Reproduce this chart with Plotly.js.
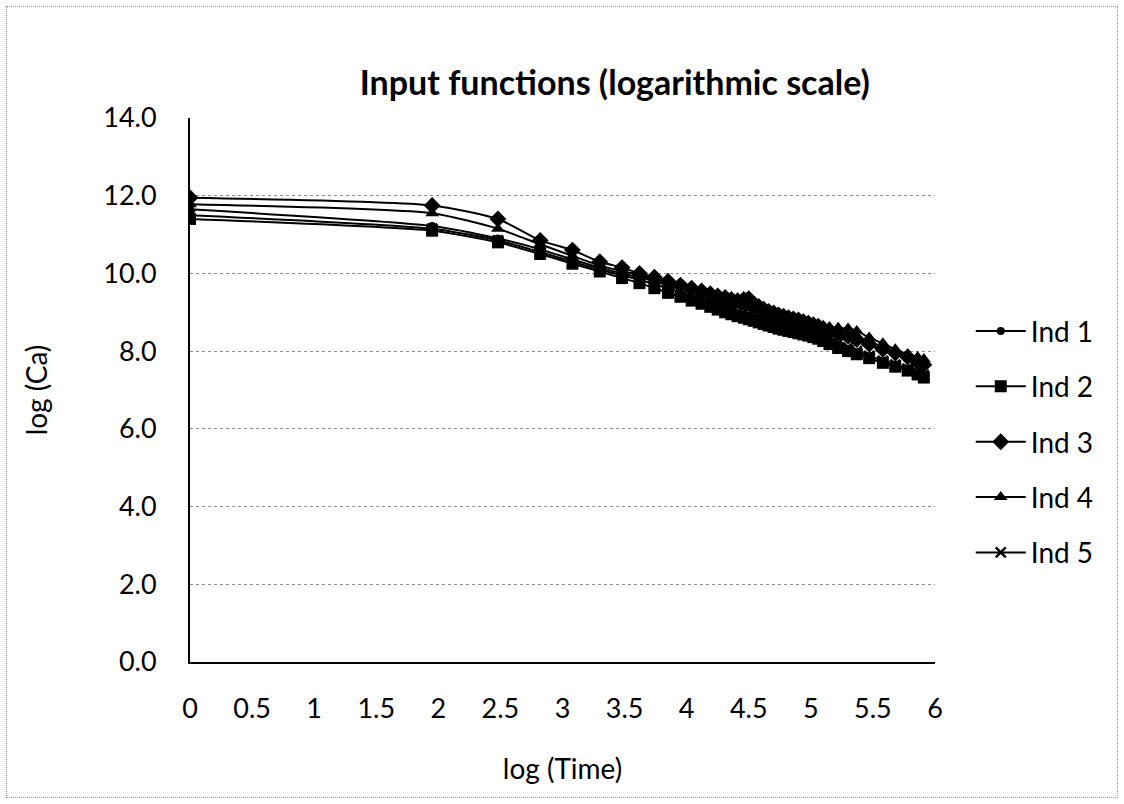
<!DOCTYPE html>
<html>
<head>
<meta charset="utf-8">
<script src="https://cdn.plot.ly/plotly-3.0.1.min.js"></script>
<style>
  html, body { margin: 0; padding: 0; background: #fff; }
  #wrap { position: relative; width: 1124px; height: 804px; }
  #chart { width: 1124px; height: 804px; }
  #frame { position: absolute; left: 6px; top: 6px; width: 1110px; height: 790px;
           border: 1px dotted #9a9a9a; pointer-events: none; }
</style>
</head>
<body>
<div id="wrap"><div id="chart"></div><div id="frame"></div></div>
<script>
// log(Time) sampling points
const logTime = [0, 1.95, 2.48, 2.82, 3.08, 3.30, 3.48, 3.62, 3.74, 3.85, 3.95, 4.04, 4.12, 4.19, 4.25,
  4.31, 4.36, 4.41, 4.46, 4.50, 4.54, 4.58, 4.62, 4.66, 4.70, 4.74, 4.78, 4.82, 4.86, 4.90,
  4.94, 4.98, 5.02, 5.06, 5.10, 5.15, 5.22, 5.30, 5.37, 5.47, 5.58, 5.68, 5.78, 5.86, 5.91];

const seriesNames = ["Ind 1", "Ind 2", "Ind 3", "Ind 4", "Ind 5"];

const ind1 = [11.65, 11.22, 10.90, 10.62, 10.36, 10.15, 10.00, 9.90, 9.80, 9.70, 9.62, 9.53, 9.46, 9.40, 9.34,
  9.29, 9.24, 9.20, 9.16, 9.12, 9.08, 9.04, 9.00, 8.96, 8.92, 8.88, 8.84, 8.80, 8.77, 8.74,
  8.70, 8.66, 8.62, 8.58, 8.54, 8.48, 8.42, 8.35, 8.28, 8.15, 8.02, 7.92, 7.80, 7.68, 7.60];

const ind2 = [11.40, 11.10, 10.80, 10.50, 10.25, 10.05, 9.88, 9.75, 9.62, 9.50, 9.40, 9.30, 9.22, 9.14, 9.07,
  9.00, 8.95, 8.90, 8.86, 8.82, 8.78, 8.74, 8.70, 8.66, 8.62, 8.58, 8.55, 8.52, 8.49, 8.46,
  8.43, 8.40, 8.36, 8.32, 8.26, 8.18, 8.08, 8.00, 7.92, 7.82, 7.70, 7.60, 7.50, 7.40, 7.32];

const ind3 = [11.95, 11.75, 11.40, 10.85, 10.60, 10.30, 10.15, 10.00, 9.90, 9.80, 9.70, 9.62, 9.55, 9.48, 9.42,
  9.38, 9.33, 9.30, 9.33, 9.35, 9.22, 9.15, 9.08, 9.02, 8.98, 8.93, 8.90, 8.86, 8.83, 8.80,
  8.76, 8.72, 8.68, 8.64, 8.58, 8.52, 8.45, 8.38, 8.30, 8.18, 8.05, 7.95, 7.85, 7.72, 7.65];

const ind4 = [11.78, 11.55, 11.15, 10.75, 10.45, 10.20, 10.06, 9.96, 9.86, 9.76, 9.68, 9.60, 9.53, 9.47, 9.42,
  9.36, 9.32, 9.27, 9.23, 9.20, 9.16, 9.12, 9.08, 9.04, 9.00, 8.96, 8.92, 8.88, 8.85, 8.82,
  8.78, 8.75, 8.72, 8.68, 8.65, 8.62, 8.60, 8.58, 8.52, 8.35, 8.20, 8.05, 7.92, 7.85, 7.80];

const ind5 = [11.50, 11.15, 10.85, 10.55, 10.30, 10.10, 9.95, 9.84, 9.72, 9.62, 9.52, 9.43, 9.35, 9.28, 9.21,
  9.14, 9.08, 9.02, 8.97, 8.93, 8.89, 8.85, 8.81, 8.77, 8.73, 8.69, 8.66, 8.62, 8.58, 8.55,
  8.52, 8.49, 8.46, 8.42, 8.37, 8.30, 8.20, 8.10, 8.00, 7.88, 7.75, 7.65, 7.55, 7.45, 7.38];

const xTickVals = [0, 0.5, 1, 1.5, 2, 2.5, 3, 3.5, 4, 4.5, 5, 5.5, 6];
const xTickText = ["0", "0.5", "1", "1.5", "2", "2.5", "3", "3.5", "4", "4.5", "5", "5.5", "6"];
const yTickVals = [0, 2, 4, 6, 8, 10, 12, 14];
const yTickText = ["0.0", "2.0", "4.0", "6.0", "8.0", "10.0", "12.0", "14.0"];

const FONT = "Lato, 'Open Sans', sans-serif";
const symbols = [
  {symbol: "circle", size: 8},
  {symbol: "square", size: 12},
  {symbol: "diamond", size: 13},
  {symbol: "triangle-up", size: 12},
  {symbol: "x-thin", size: 10}
];
const values = [ind1, ind2, ind3, ind4, ind5];

const traces = values.map((ys, i) => ({
  type: "scatter",
  mode: "lines+markers",
  name: seriesNames[i],
  legendgroup: "g" + i,
  x: logTime,
  y: ys,
  line: {color: "#000", width: 2, shape: "spline", smoothing: 0.6},
  marker: {color: "#000", symbol: symbols[i].symbol, size: symbols[i].size,
           line: {color: "#000", width: symbols[i].symbol === "x-thin" ? 2.5 : 0}}
}));

const layout = {
  width: 1124, height: 804,
  paper_bgcolor: "#fff", plot_bgcolor: "#fff",
  margin: {l: 190, r: 189, t: 118, b: 142},
  font: {family: FONT, color: "#000", size: 27},
  title: {text: "<b>Input functions (logarithmic scale)</b>", font: {family: FONT, size: 34, color: "#000"},
          x: 0.547, xanchor: "center", y: 0.897, yanchor: "middle"},
  xaxis: {
    range: [0, 6], tickvals: xTickVals, ticktext: xTickText,
    showgrid: false, zeroline: false, showline: true, linecolor: "#000", linewidth: 2,
    ticks: "", ticklabelstandoff: 22, tickfont: {family: FONT, size: 27, color: "#000"},
    title: {text: "log (Time)", font: {family: FONT, size: 28, color: "#000"}, standoff: 36}
  },
  yaxis: {
    range: [0, 14], tickvals: yTickVals, ticktext: yTickText,
    showgrid: true, gridcolor: "#8c8c8c", griddash: "dot", gridwidth: 1,
    zeroline: false, showline: true, linecolor: "#000", linewidth: 2,
    ticks: "", ticklabelstandoff: 26, tickfont: {family: FONT, size: 27, color: "#000"},
    title: {text: "log (Ca)", font: {family: FONT, size: 28, color: "#000"}, standoff: 47}
  },
  legend: {
    x: 1.048, xanchor: "left", y: 0.405, yanchor: "middle",
    font: {family: FONT, size: 28, color: "#000"},
    tracegroupgap: 16, itemwidth: 50, bgcolor: "rgba(0,0,0,0)"
  },
  showlegend: true
};

Plotly.newPlot("chart", traces, layout, {displayModeBar: false, staticPlot: true});
</script>
</body>
</html>
